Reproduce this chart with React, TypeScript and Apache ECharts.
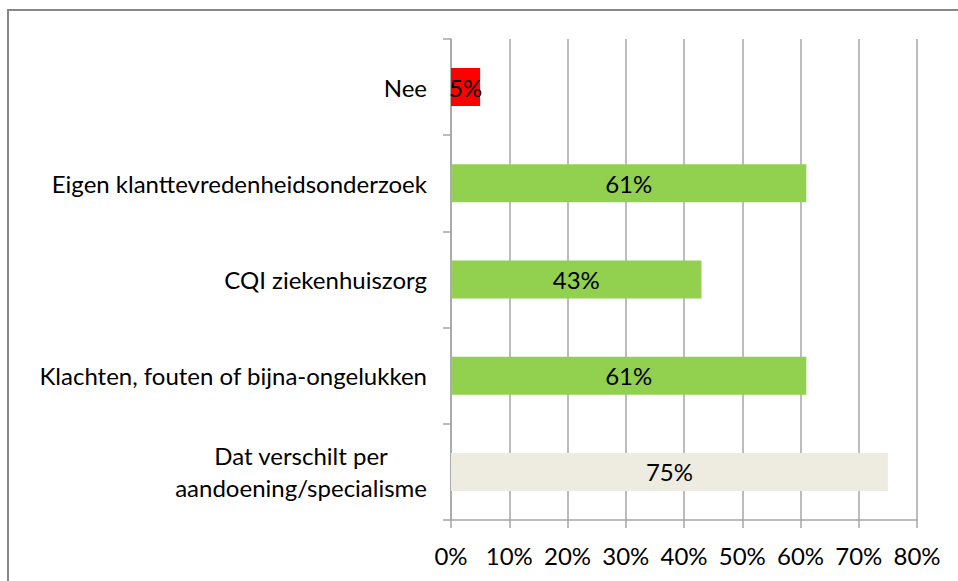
import React, { useEffect, useRef } from "react";
import * as echarts from "echarts";

const categories = [
  "Dat verschilt per\naandoening/specialisme",
  "Klachten, fouten of bijna-ongelukken",
  "CQI ziekenhuiszorg",
  "Eigen klanttevredenheidsonderzoek",
  "Nee",
];
const values = [75, 61, 43, 61, 5];
const barColors = ["#EEECE1", "#92D050", "#92D050", "#92D050", "#FF0000"];
const xMin = 0;
const xMax = 80;
const xStep = 10;

const FONT = "Lato, 'Liberation Sans', sans-serif";
const FS = 24;

export default function App() {
  const ref = useRef<HTMLDivElement>(null);
  useEffect(() => {
    if (!ref.current) return;
    const chart = echarts.init(ref.current, undefined, { renderer: "svg" });
    chart.setOption({
      animation: false,
      backgroundColor: "#ffffff",
      textStyle: { fontFamily: FONT },
      graphic: [
        {
          type: "line",
          shape: { x1: 7, y1: 10, x2: 958, y2: 10 },
          style: { stroke: "#878787", lineWidth: 2 },
        },
        {
          type: "line",
          shape: { x1: 8, y1: 10, x2: 8, y2: 581 },
          style: { stroke: "#878787", lineWidth: 2 },
        },
      ],
      grid: { left: 451, right: 41, top: 39, bottom: 61, containLabel: false },
      xAxis: {
        type: "value",
        min: xMin,
        max: xMax,
        interval: xStep,
        axisLine: { show: true, lineStyle: { color: "#A6A6A6", width: 1.5 } },
        axisTick: { show: true, length: 8, lineStyle: { color: "#A6A6A6", width: 1.5 } },
        splitLine: { show: true, lineStyle: { color: "#A6A6A6", width: 1.5 } },
        axisLabel: {
          formatter: "{value}%",
          color: "#000",
          fontFamily: FONT,
          fontSize: FS,
          margin: 23,
        },
      },
      yAxis: {
        type: "category",
        data: categories,
        axisLine: { show: true, lineStyle: { color: "#A6A6A6", width: 1.5 } },
        axisTick: { show: true, length: 8, lineStyle: { color: "#A6A6A6", width: 1.5 } },
        splitLine: { show: false },
        axisLabel: {
          color: "#000",
          fontFamily: FONT,
          fontSize: FS,
          margin: 24,
          lineHeight: 32,
          formatter: (v: string) =>
            v.indexOf("\n") >= 0
              ? v
                  .split("\n")
                  .map((l) => `{c|${l}}`)
                  .join("\n")
              : v,
          rich: {
            c: {
              align: "center",
              color: "#000",
              fontFamily: FONT,
              fontSize: FS,
              lineHeight: 32,
            },
          },
        },
      },
      series: [
        {
          type: "bar",
          barWidth: 38,
          data: values.map((v, i) => ({
            value: v,
            itemStyle: { color: barColors[i] },
          })),
          label: {
            show: true,
            position: "inside",
            formatter: "{c}%",
            color: "#000",
            fontFamily: FONT,
            fontSize: FS,
          },
        },
      ],
    });
    return () => chart.dispose();
  }, []);
  return (
    <div
      ref={ref}
      style={{
        position: "absolute",
        left: 0,
        top: 0,
        width: 958,
        height: 581,
        background: "#fff",
      }}
    />
  );
}
